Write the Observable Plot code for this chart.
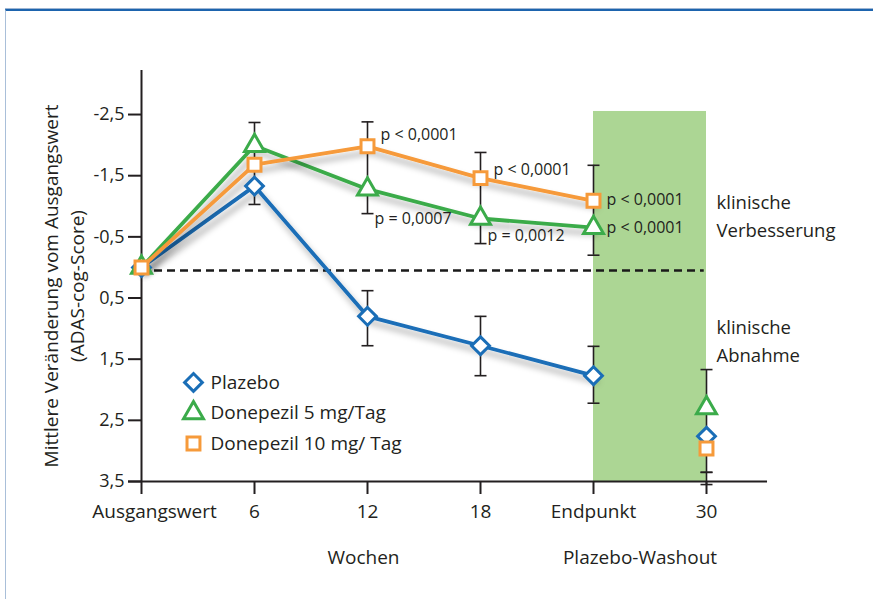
<!DOCTYPE html>
<html>
<head>
<meta charset="utf-8">
<script src="https://cdn.jsdelivr.net/npm/d3@7"></script>
<script src="https://cdn.jsdelivr.net/npm/@observablehq/plot@0.6"></script>
<style>
  html, body { margin: 0; padding: 0; background: #fff; }
  #wrap { position: relative; width: 873px; height: 599px; overflow: hidden; }
  #frame { position: absolute; left: 5px; top: 9px; width: 900px; height: 700px;
           border-top: 2px solid #1d64ae; border-left: 1px solid #a9bfd9; box-shadow: 0 -1px 0 #9fb6d3; }
  #chart { position: absolute; left: 0; top: 0; }
</style>
</head>
<body>
<div id="wrap"><div id="frame"></div><div id="chart"></div></div>
<script>
// ---- data ----
const xLabels = ["Ausgangswert", "6", "12", "18", "Endpunkt", "30"];
const xIdx = [0, 1, 2, 3, 4, 5];
const placebo = [0, -1.33, 0.80, 1.28, 1.77, 2.76];
const donepezil5 = [0, -1.99, -1.28, -0.80, -0.65, 2.30];
const donepezil10 = [0, -1.68, -1.98, -1.46, -1.09, 2.96];
const seriesNames = ["Plazebo", "Donepezil 5 mg/Tag", "Donepezil 10 mg/ Tag"];
const connectedUpTo = 4; // points 0..4 joined by a line, week 30 separate

const errX  = [1, 2, 2, 3, 3, 4, 4, 5, 5];
const errLo = [-2.37, -2.38, 0.38, -1.88, 0.80, -1.67, 1.29, 1.67, 3.35];
const errHi = [-1.03, -0.88, 1.28, -0.39, 1.77, -0.20, 2.22, 3.35, 3.55];

const yTicks = [-2.5, -1.5, -0.5, 0.5, 1.5, 2.5, 3.5];
const pLessX = [2, 3, 4, 4];
const pLessY = [-2.16, -1.59, -1.11, -0.64];
const pLessText = "p < 0,0001";
const pEqX = [2, 3];
const pEqY = [-0.80, -0.51];
const pEqText = ["p = 0,0007", "p = 0,0012"];
const washoutBand = {x1: 4, x2: 5, y1: -2.55, y2: 3.5};
const referenceLevel = 0.05;
const yLabel = "Mittlere Veränderung vom Ausgangswert\n(ADAS-cog-Score)";
const noteUp = "klinische\nVerbesserung";
const noteDown = "klinische\nAbnahme";
const noteUpY = -0.87, noteDownY = 1.17;

// ---- build ----
const colors = ["#1a6eb7", "#3bab4a", "#f69a3a"];
const symbols = ["diamond2", "triangle2", "square"];
const radii = [8, 9.5, 7.3];
const values = [placebo, donepezil5, donepezil10];
const series = seriesNames.map((name, k) => ({
  name, color: colors[k], symbol: symbols[k], r: radii[k],
  pts: xIdx.map((x, i) => ({x, y: values[k][i], i}))
}));
const errs = errX.map((x, i) => ({x, lo: errLo[i], hi: errHi[i]}));
const capSymbol = {draw(ctx) { ctx.moveTo(-6, 0); ctx.lineTo(6, 0); }};
const txt = "#231f20";

const marks = [
  Plot.rect([washoutBand], {x1: "x1", x2: "x2", y1: "y1", y2: "y2", fill: "#acd694"}),
  Plot.ruleY([referenceLevel], {x1: 0, x2: 4.98, stroke: "#1a1a1a", strokeWidth: 2.5, strokeDasharray: "8,5"}),
  // axes
  Plot.ruleX([0], {y1: -3.22, y2: 3.5, stroke: "#231f20", strokeWidth: 2}),
  Plot.ruleY([3.5], {x1: -0.115, x2: 5.54, stroke: "#231f20", strokeWidth: 2}),
  Plot.axisY({ticks: yTicks, tickSize: 13, tickPadding: 4, label: null, fontSize: 18,
    tickFormat: d => String(d).replace(".", ","), strokeWidth: 2, stroke: "#231f20", color: txt}),
  Plot.axisX({ticks: xIdx, tickSize: 13, label: null, tickFormat: () => "", strokeWidth: 2, stroke: "#231f20"}),
  Plot.text(xLabels.slice(0, 1), {x: () => 0, y: () => 3.5, dy: 30, dx: 13, fontSize: 19, fill: txt}),
  Plot.text(xLabels.slice(1), {x: (d, i) => i + 1, y: () => 3.5, dy: 30, fontSize: 19, fill: txt}),
  Plot.text(["Wochen"], {x: () => 2, y: () => 3.5, dy: 76, dx: -4, fontSize: 19, fill: txt}),
  Plot.text(["Plazebo-Washout"], {x: () => 4.5, y: () => 3.5, dy: 76, dx: -10, fontSize: 19, fill: txt}),
  Plot.text([yLabel], {frameAnchor: "left", textAnchor: "middle", lineAnchor: "middle", rotate: -90, dx: -79, dy: 10, fontSize: 19, lineHeight: 1.4, fill: txt}),
  // error bars
  Plot.ruleX(errs, {x: "x", y1: "lo", y2: "hi", stroke: "#231f20", strokeWidth: 1.6}),
  Plot.dot(errs, {x: "x", y: "lo", symbol: capSymbol, stroke: "#231f20", strokeWidth: 1.6, fill: "none"}),
  Plot.dot(errs, {x: "x", y: "hi", symbol: capSymbol, stroke: "#231f20", strokeWidth: 1.6, fill: "none"}),
];
for (const s of series) {
  marks.push(Plot.line(s.pts.filter(p => p.i <= connectedUpTo), {x: "x", y: "y", stroke: s.color, strokeWidth: 3.8}));
}
for (const s of series) {
  marks.push(Plot.dot(s.pts, {x: "x", y: "y", symbol: s.symbol, r: s.r, stroke: s.color, strokeWidth: 3, fill: "white"}));
}
// annotations
marks.push(
  Plot.text(pLessX, {x: d => d, y: (d, i) => pLessY[i], text: () => pLessText, textAnchor: "start", dx: 13, fontSize: 16, fill: txt}),
  Plot.text(pEqX, {x: d => d, y: (d, i) => pEqY[i], text: (d, i) => pEqText[i], textAnchor: "start", dx: 7, fontSize: 16, fill: txt}),
  Plot.text([noteUp], {x: () => 5, y: () => noteUpY, dx: 10, textAnchor: "start", fontSize: 18.5, lineHeight: 1.5, fill: txt}),
  Plot.text([noteDown], {x: () => 5, y: () => noteDownY, dx: 10, textAnchor: "start", fontSize: 18.5, lineHeight: 1.5, fill: txt})
);
// legend
series.forEach((s, k) => {
  marks.push(Plot.dot([s], {x: () => 0.46, y: () => 1.88 + k * 0.5, symbol: s.symbol, r: s.r, stroke: s.color, strokeWidth: 3, fill: "white"}));
  marks.push(Plot.text([s], {x: () => 0.46, y: () => 1.88 + k * 0.5, text: d => d.name, dx: 17, textAnchor: "start", fontSize: 19, fill: txt}));
});

const chart = Plot.plot({
  width: 873, height: 599,
  marginLeft: 141, marginRight: 167, marginTop: 70, marginBottom: 118,
  x: {domain: [0, 5], axis: null},
  y: {domain: [-3.22, 3.5], reverse: true, axis: null},
  style: {fontFamily: "'Open Sans', sans-serif", background: "transparent", color: txt, overflow: "visible"},
  marks
});
// drop shadow under the lines
const ns = "http://www.w3.org/2000/svg";
const defs = document.createElementNS(ns, "defs");
defs.innerHTML = '<filter id="sh" x="-10%" y="-20%" width="130%" height="160%"><feDropShadow dx="3" dy="6" stdDeviation="3" flood-color="#000" flood-opacity="0.33"/></filter>';
chart.insertBefore(defs, chart.firstChild);
chart.querySelectorAll('g[aria-label="line"]').forEach(g => g.setAttribute("filter", "url(#sh)"));
document.getElementById("chart").appendChild(chart);
</script>
</body>
</html>
